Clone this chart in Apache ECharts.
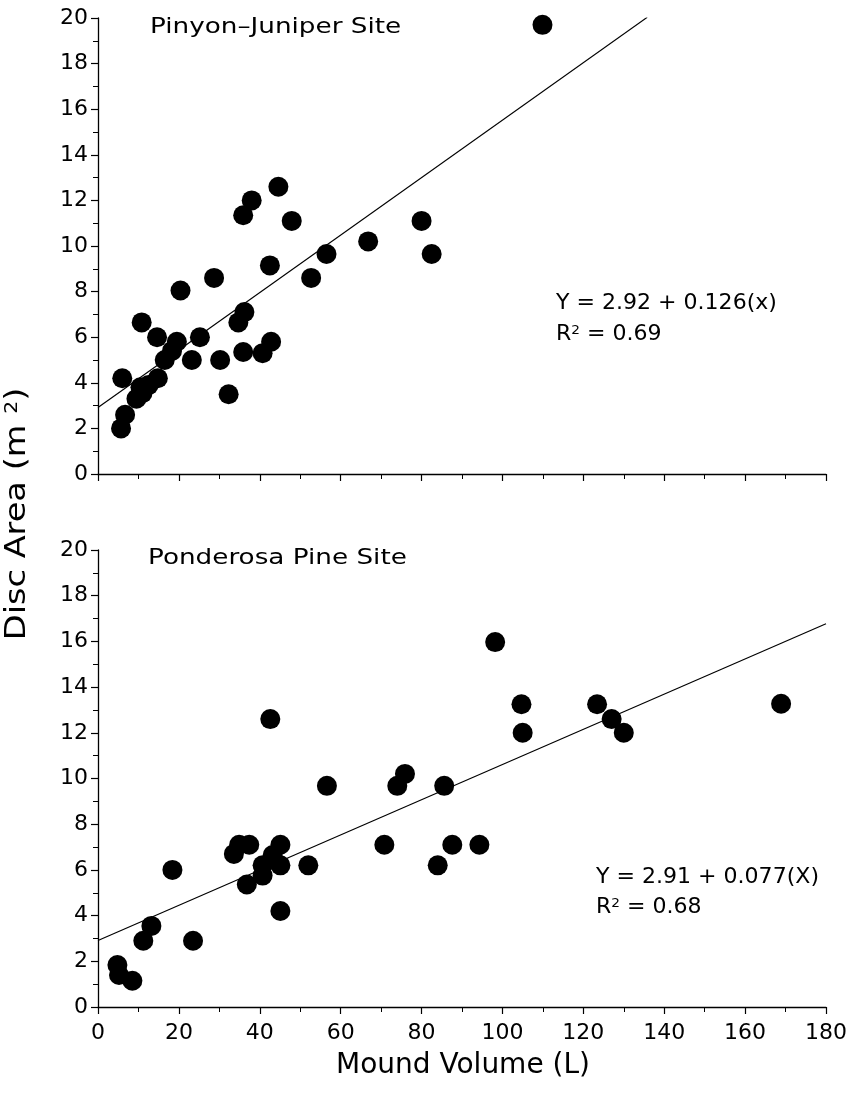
<!DOCTYPE html>
<html>
<head>
<meta charset="utf-8">
<script src="https://cdn.jsdelivr.net/npm/echarts@6/dist/echarts.min.js"></script>
<style>
html,body{margin:0;padding:0;background:#fff;}
#main{width:851px;height:1095px;}
</style>
</head>
<body>
<div id="main"></div>
<script>
// 刻度
var xTicks = [0, 20, 40, 60, 80, 100, 120, 140, 160, 180];
var yTicks = [0, 2, 4, 6, 8, 10, 12, 14, 16, 18, 20];

// Pinyon-Juniper site: [mound volume, disc area]
var pjPoints = [
	[5.7, 2.0], [6.7, 2.6], [6.0, 4.2], [9.5, 3.3], [10.5, 3.8], [11.0, 3.55],
	[12.5, 3.9], [14.8, 4.2], [10.8, 6.65], [14.6, 6.0], [16.5, 5.0], [18.3, 5.4],
	[19.5, 5.8], [20.4, 8.05], [23.2, 5.0], [25.2, 6.0], [28.7, 8.6], [30.2, 5.0],
	[32.3, 3.5], [34.7, 6.65], [36.2, 7.1], [35.9, 5.35], [35.9, 11.35], [38.0, 12.0],
	[40.7, 5.3], [42.8, 5.8], [42.5, 9.15], [44.6, 12.6], [47.9, 11.1], [52.7, 8.6],
	[56.5, 9.65], [66.8, 10.2], [80.0, 11.1], [82.5, 9.65], [109.9, 19.7]
];
var pjFit = {a: 2.92, b: 0.126, xFrom: 0, xTo: 135.8};

// Ponderosa Pine site
var ppPoints = [
	[4.8, 1.84], [5.2, 1.4], [8.5, 1.15], [11.2, 2.9], [13.2, 3.55], [18.4, 6.0],
	[23.5, 2.9], [33.6, 6.7], [34.9, 7.1], [37.4, 7.1], [36.8, 5.36], [40.7, 6.2],
	[40.7, 5.75], [42.6, 12.6], [43.2, 6.65], [45.1, 7.1], [45.1, 6.2], [45.1, 4.2],
	[52.0, 6.2], [56.6, 9.68], [70.8, 7.1], [74.0, 9.68], [75.9, 10.2], [84.0, 6.2],
	[85.6, 9.68], [87.6, 7.1], [94.3, 7.1], [98.2, 15.97], [104.7, 13.25], [105.0, 12.0],
	[123.4, 13.25], [127.0, 12.6], [130.0, 12.0], [168.9, 13.27]
];
var ppFit = {a: 2.91, b: 0.077, xFrom: 0, xTo: 180};

function fitLine(f) {
	return [[f.xFrom, f.a + f.b * f.xFrom], [f.xTo, f.a + f.b * f.xTo]];
}

var FONT = 'DejaVu Sans';
var axisStyle = {
	axisLine: {show: true, onZero: false, lineStyle: {color: '#000', width: 1.3}},
	axisTick: {show: true, inside: false, length: 7, lineStyle: {color: '#000', width: 1.2}},
	minorTick: {show: true, splitNumber: 2, length: 5, lineStyle: {color: '#000', width: 1}},
	splitLine: {show: false}
};

function xAxis(idx, showLabel) {
	return Object.assign({
		type: 'value', gridIndex: idx, min: xTicks[0], max: xTicks[xTicks.length - 1], interval: 20,
		axisLabel: {show: showLabel, color: '#000', fontFamily: FONT, fontSize: 22, margin: 15}
	}, axisStyle);
}
function yAxis(idx) {
	return Object.assign({
		type: 'value', gridIndex: idx, min: yTicks[0], max: yTicks[yTicks.length - 1], interval: 2,
		axisLabel: {color: '#000', fontFamily: FONT, fontSize: 22, margin: 10}
	}, axisStyle);
}

// 图内文字 (字体比DejaVu宽，用scaleX拉一下)
function txt(x, y, text, size, sx) {
	return {type: 'text', x: x, y: y, scaleX: sx || 1, style: {
		text: text, fontFamily: FONT, fontSize: size, fill: '#000',
		align: 'left', verticalAlign: 'middle',
		rich: {s: {fontFamily: FONT, fontSize: 13, verticalAlign: 'top', lineHeight: size, fill: '#000'}}
	}};
}

var myChart = echarts.init(document.getElementById('main'));
var option = {
	backgroundColor: '#fff',
	animation: false,
	grid: [
		{left: 98, top: 18, width: 728, height: 456},
		{left: 98, top: 550, width: 728, height: 457}
	],
	xAxis: [xAxis(0, false), xAxis(1, true)],
	yAxis: [yAxis(0), yAxis(1)],
	graphic: [
		txt(150, 28, 'Pinyon\u2013Juniper Site', 21, 1.25),
		txt(148, 559, 'Ponderosa Pine Site', 21, 1.25),
		txt(556, 304, 'Y = 2.92 + 0.126(x)', 21, 1.05),
		txt(556, 335, 'R{s|2} = 0.69', 21, 1.05),
		txt(596, 878, 'Y = 2.91 + 0.077(X)', 21, 1.05),
		txt(596, 908, 'R{s|2} = 0.68', 21, 1.05),
		{type: 'text', x: 463, y: 1066, style: {
			text: 'Mound Volume (L)', fontFamily: FONT, fontSize: 28, fill: '#000',
			align: 'center', verticalAlign: 'middle'
		}},
		{type: 'text', x: 18, y: 514, rotation: Math.PI / 2, scaleX: 1.2, style: {
			text: 'Disc Area (m {s|2})', fontFamily: FONT, fontSize: 28, fill: '#000',
			align: 'center', verticalAlign: 'middle',
			rich: {s: {fontFamily: FONT, fontSize: 17, verticalAlign: 'top', lineHeight: 28, fill: '#000'}}
		}}
	],
	series: [
		{type: 'scatter', xAxisIndex: 0, yAxisIndex: 0, symbol: 'circle', symbolSize: 20,
			itemStyle: {color: '#000', opacity: 1}, data: pjPoints, z: 3},
		{type: 'line', xAxisIndex: 0, yAxisIndex: 0, data: fitLine(pjFit), symbol: 'none',
			lineStyle: {color: '#000', width: 1.2}, z: 2},
		{type: 'scatter', xAxisIndex: 1, yAxisIndex: 1, symbol: 'circle', symbolSize: 20,
			itemStyle: {color: '#000', opacity: 1}, data: ppPoints, z: 3},
		{type: 'line', xAxisIndex: 1, yAxisIndex: 1, data: fitLine(ppFit), symbol: 'none',
			lineStyle: {color: '#000', width: 1.2}, z: 2}
	]
};
myChart.setOption(option);
</script>
</body>
</html>
